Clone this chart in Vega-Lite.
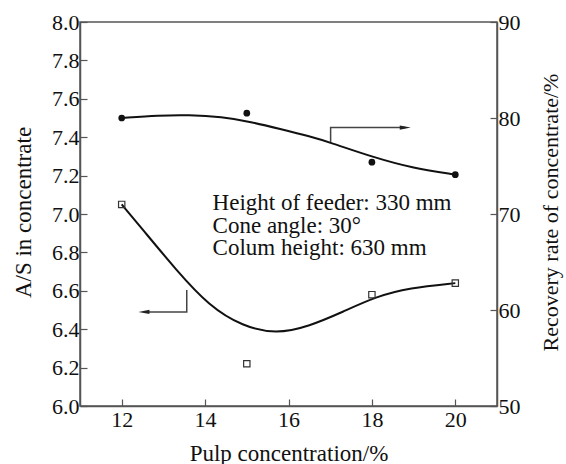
{
  "$schema": "https://vega.github.io/schema/vega-lite/v6.json",
  "width": 417,
  "height": 384,
  "autosize": {"type": "none"},
  "padding": {"left": 80, "top": 22, "right": 69, "bottom": 58},
  "background": "white",
  "config": {
    "view": {"stroke": "#555", "strokeWidth": 1.5},
    "axis": {
      "grid": false,
      "domainColor": "#555",
      "domainWidth": 1.5,
      "tickColor": "#555",
      "tickWidth": 1.2,
      "tickSize": -7,
      "labelFont": "Liberation Serif",
      "labelFontSize": 22,
      "labelColor": "#111",
      "titleFont": "Liberation Serif",
      "titleFontSize": 23,
      "titleFontWeight": "normal",
      "titleColor": "#111"
    }
  },
  "datasets": {
    "asPts": [
      {"c": 12, "v": 7.05},
      {"c": 15, "v": 6.22},
      {"c": 18, "v": 6.58},
      {"c": 20, "v": 6.64}
    ],
    "asCurve": [
      {"c": 12, "v": 7.05},
      {"c": 12.5, "v": 6.92},
      {"c": 13.3, "v": 6.71},
      {"c": 14.1, "v": 6.52},
      {"c": 14.9, "v": 6.415},
      {"c": 15.7, "v": 6.375},
      {"c": 16.5, "v": 6.415},
      {"c": 17.3, "v": 6.49},
      {"c": 18.1, "v": 6.57},
      {"c": 18.9, "v": 6.615},
      {"c": 20, "v": 6.64}
    ],
    "recPts": [
      {"c": 12, "v": 80.0},
      {"c": 15, "v": 80.5},
      {"c": 18, "v": 75.4},
      {"c": 20, "v": 74.1}
    ],
    "recCurve": [
      {"c": 12, "v": 80.0},
      {"c": 12.9, "v": 80.28},
      {"c": 13.6, "v": 80.33},
      {"c": 14.4, "v": 80.12},
      {"c": 15.1, "v": 79.6},
      {"c": 15.8, "v": 78.85},
      {"c": 16.5, "v": 78.1},
      {"c": 17.0, "v": 77.45},
      {"c": 18.0, "v": 75.95},
      {"c": 19.0, "v": 74.75},
      {"c": 20, "v": 74.1}
    ],
    "notes": [
      {"c": 14.18, "v": 7.02, "t": "Height of feeder: 330 mm"},
      {"c": 14.18, "v": 6.902, "t": "Cone angle: 30°"},
      {"c": 14.18, "v": 6.784, "t": "Colum height: 630 mm"}
    ],
    "arrowA": [
      {"c": 13.56, "v": 6.604, "o": 1},
      {"c": 13.56, "v": 6.49, "o": 2},
      {"c": 12.534, "v": 6.49, "o": 3}
    ],
    "arrowAHead": [{"c": 12.534, "v": 6.49}],
    "arrowB": [
      {"c": 17.01, "v": 77.5, "o": 1},
      {"c": 17.01, "v": 79.0, "o": 2},
      {"c": 18.8, "v": 79.0, "o": 3}
    ],
    "arrowBHead": [{"c": 18.8, "v": 79.0}]
  },
  "encoding": {
    "x": {
      "field": "c",
      "type": "quantitative",
      "scale": {"domain": [11, 21], "nice": false, "zero": false},
      "axis": {
        "title": "Pulp concentration/%",
        "values": [12, 14, 16, 18, 20],
        "labelPadding": 10,
        "titleY": 47,
        "titleBaseline": "middle"
      }
    }
  },
  "layer": [
    {
      "encoding": {
        "y": {
          "field": "v",
          "type": "quantitative",
          "scale": {"domain": [6, 8], "nice": false, "zero": false},
          "axis": {
            "title": "A/S in concentrate",
            "values": [6.0, 6.2, 6.4, 6.6, 6.8, 7.0, 7.2, 7.4, 7.6, 7.8, 8.0],
            "format": ".1f",
            "labelPadding": 8,
            "titleX": -57,
            "titleY": 190,
            "titleBaseline": "middle",
            "titleAngle": 270
          }
        }
      },
      "layer": [
        {
          "data": {"name": "asCurve"},
          "mark": {"type": "line", "interpolate": "basis", "color": "#111", "strokeWidth": 2}
        },
        {
          "data": {"name": "asPts"},
          "mark": {"type": "point", "shape": "square", "filled": false, "stroke": "#333", "strokeWidth": 1.2, "size": 40, "opacity": 1}
        },
        {
          "data": {"name": "notes"},
          "mark": {"type": "text", "align": "left", "baseline": "alphabetic", "font": "Liberation Serif", "fontSize": 23, "color": "#111"},
          "encoding": {"text": {"field": "t"}}
        },
        {
          "data": {"name": "arrowA"},
          "mark": {"type": "line", "color": "#444", "strokeWidth": 1.5},
          "encoding": {"order": {"field": "o"}}
        },
        {
          "data": {"name": "arrowAHead"},
          "mark": {"type": "point", "shape": "M-1,0L1,-0.4L1,0.4Z", "filled": true, "color": "#222", "size": 121, "opacity": 1}
        }
      ]
    },
    {
      "encoding": {
        "y": {
          "field": "v",
          "type": "quantitative",
          "scale": {"domain": [50, 90], "nice": false, "zero": false},
          "axis": {
            "orient": "right",
            "title": "Recovery rate of concentrate/%",
            "titleFontSize": 22,
            "values": [50, 60, 70, 80, 90],
            "labelPadding": 8,
            "titleX": 53,
            "titleY": 190,
            "titleBaseline": "middle",
            "titleAngle": 270
          }
        }
      },
      "layer": [
        {
          "data": {"name": "recCurve"},
          "mark": {"type": "line", "interpolate": "basis", "color": "#111", "strokeWidth": 2}
        },
        {
          "data": {"name": "recPts"},
          "mark": {"type": "point", "shape": "circle", "filled": true, "color": "#111", "size": 45, "opacity": 1}
        },
        {
          "data": {"name": "arrowB"},
          "mark": {"type": "line", "color": "#444", "strokeWidth": 1.5},
          "encoding": {"order": {"field": "o"}}
        },
        {
          "data": {"name": "arrowBHead"},
          "mark": {"type": "point", "shape": "M1,0L-1,-0.4L-1,0.4Z", "filled": true, "color": "#222", "size": 121, "opacity": 1}
        }
      ]
    }
  ],
  "resolve": {"scale": {"y": "independent"}, "axis": {"y": "independent"}}
}
